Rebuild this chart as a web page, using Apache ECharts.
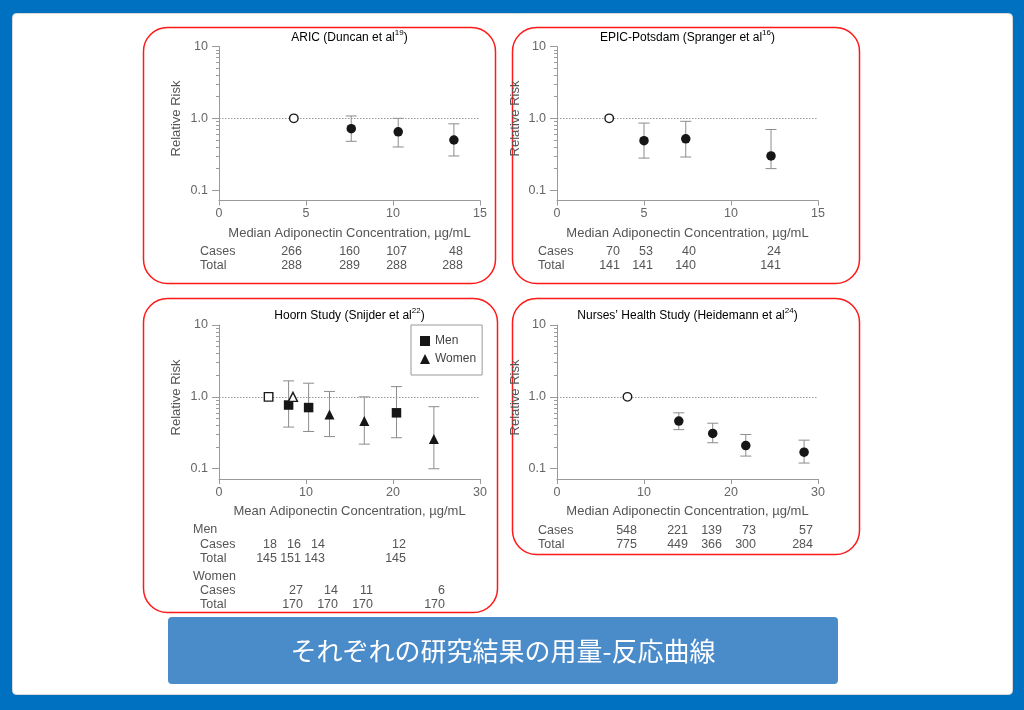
<!DOCTYPE html>
<html>
<head>
<meta charset="utf-8">
<script src="https://cdn.jsdelivr.net/npm/echarts@6/dist/echarts.min.js"></script>
<style>
html,body{margin:0;padding:0;background:#0070C0;}
#chart{width:1024px;height:710px;}
</style>
</head>
<body>
<div id="chart"></div>
<script>
// ---------- DATA ----------
// ARIC (Duncan et al)
const aricX     = [4.3, 7.6, 10.3, 13.5];
const aricRR    = [1.0, 0.72, 0.65, 0.50];
const aricLo    = [null, 0.48, 0.40, 0.30];
const aricHi    = [null, 1.08, 1.00, 0.84];
const aricCases = [266, 160, 107, 48];
const aricTotal = [288, 289, 288, 288];

// EPIC-Potsdam (Spranger et al)
const epicX     = [3.0, 5.0, 7.4, 12.3];
const epicRR    = [1.0, 0.49, 0.52, 0.30];
const epicLo    = [null, 0.28, 0.29, 0.20];
const epicHi    = [null, 0.86, 0.91, 0.70];
const epicCases = [70, 53, 40, 24];
const epicTotal = [141, 141, 140, 141];

// Hoorn Study (Snijder et al)
const menX       = [5.7, 8.0, 10.3, 20.4];
const menRR      = [1.0, 0.77, 0.71, 0.60];
const menLo      = [null, 0.38, 0.33, 0.27];
const menHi      = [null, 1.67, 1.55, 1.39];
const menCases   = [18, 16, 14, 12];
const menTotal   = [145, 151, 143, 145];
const womenX     = [8.5, 12.7, 16.7, 24.7];
const womenRR    = [1.0, 0.57, 0.46, 0.26];
const womenLo    = [null, 0.28, 0.22, 0.10];
const womenHi    = [null, 1.19, 1.00, 0.73];
const womenCases = [27, 14, 11, 6];
const womenTotal = [170, 170, 170, 170];

// Nurses' Health Study (Heidemann et al)
const nhsX     = [8.1, 14.0, 17.9, 21.7, 28.4];
const nhsRR    = [1.0, 0.46, 0.31, 0.21, 0.17];
const nhsLo    = [null, 0.35, 0.23, 0.15, 0.12];
const nhsHi    = [null, 0.60, 0.43, 0.30, 0.25];
const nhsCases = [548, 221, 139, 73, 57];
const nhsTotal = [775, 449, 366, 300, 284];

// Axis ticks
const yMajorTicks = [0.1, 1, 10];
const yMinorTicks = [0.2, 0.3, 0.4, 0.5, 0.6, 0.7, 0.8, 0.9, 2, 3, 4, 5, 6, 7, 8, 9];

const titles = [
  ['ARIC (Duncan et al', '19', ')'],
  ['EPIC-Potsdam (Spranger et al', '16', ')'],
  ['Hoorn Study (Snijder et al', '22', ')'],
  ['Nurses\u2019 Health Study (Heidemann et al', '24', ')']
];
const xNames = [
  'Median Adiponectin Concentration, \u00b5g/mL',
  'Median Adiponectin Concentration, \u00b5g/mL',
  'Mean Adiponectin Concentration, \u00b5g/mL',
  'Median Adiponectin Concentration, \u00b5g/mL'
];
const yName = 'Relative Risk';
const bannerText = 'それぞれの研究結果の用量-反応曲線';

// ---------- LAYOUT ----------
const FONT = '"Liberation Sans", Arial, Helvetica, sans-serif';
const grids = [
  {left: 219, top: 46.5, width: 261, height: 154},
  {left: 557, top: 46.5, width: 261, height: 154},
  {left: 219, top: 325,  width: 261, height: 154},
  {left: 557, top: 325,  width: 261, height: 154}
];
const xMax = [15, 15, 30, 30];
const xInt = [5, 5, 10, 10];
const Y_MIN = 0.072, Y_MAX = 10;

const AXIS_COLOR = '#9a9a9a';
const LABEL_COLOR = '#666';
const TEXT_COLOR = '#555';

const chart = echarts.init(document.getElementById('chart'), null, {renderer: 'canvas'});

const xAxes = [], yAxes = [], series = [];
grids.forEach((g, i) => {
  xAxes.push({
    type: 'value', gridIndex: i, min: 0, max: xMax[i], interval: xInt[i],
    name: xNames[i], nameLocation: 'middle', nameGap: 26,
    nameTextStyle: {fontFamily: FONT, fontSize: 13, color: TEXT_COLOR},
    axisLine: {show: true, lineStyle: {color: AXIS_COLOR, width: 1}},
    axisTick: {show: true, inside: false, length: 5, lineStyle: {color: AXIS_COLOR}},
    axisLabel: {fontFamily: FONT, fontSize: 12.5, color: LABEL_COLOR, margin: 7},
    splitLine: {show: false}
  });
  yAxes.push({
    type: 'log', logBase: 10, gridIndex: i, min: Y_MIN, max: Y_MAX,
    axisLine: {show: true, onZero: false, lineStyle: {color: AXIS_COLOR, width: 1}},
    axisTick: {show: true, inside: false, length: 7, customValues: yMajorTicks, lineStyle: {color: AXIS_COLOR}},
    axisLabel: {customValues: yMajorTicks, fontFamily: FONT, fontSize: 12.5, color: LABEL_COLOR, margin: 11,
      formatter: v => (Math.abs(v - 10) < 1e-6 ? '10' : (+v).toFixed(1))},
    splitLine: {show: false}
  });
  // minor ticks axis
  yAxes.push({
    type: 'log', logBase: 10, gridIndex: i, min: Y_MIN, max: Y_MAX, position: 'left', offset: 0,
    axisLine: {show: false},
    axisTick: {show: true, inside: false, length: 3, customValues: yMinorTicks, lineStyle: {color: AXIS_COLOR}},
    axisLabel: {show: false},
    splitLine: {show: false}
  });
});

function errRender(params, api) {
  const x = api.value(0), lo = api.value(1), hi = api.value(2);
  const p1 = api.coord([x, hi]);
  const p2 = api.coord([x, lo]);
  const w = 5.5;
  const st = {stroke: '#8c8c8c', lineWidth: 1};
  return {type: 'group', children: [
    {type: 'line', shape: {x1: p1[0], y1: p1[1], x2: p2[0], y2: p2[1]}, style: st},
    {type: 'line', shape: {x1: p1[0] - w, y1: p1[1], x2: p1[0] + w, y2: p1[1]}, style: st},
    {type: 'line', shape: {x1: p2[0] - w, y1: p2[1], x2: p2[0] + w, y2: p2[1]}, style: st}
  ]};
}

function addGroup(gi, name, xs, rr, lo, hi, symbol, size, withRefLine) {
  const errData = [];
  xs.forEach((x, k) => { if (lo[k] != null) errData.push([x, lo[k], hi[k]]); });
  series.push({
    type: 'custom', name: name + ' CI', xAxisIndex: gi, yAxisIndex: gi * 2,
    renderItem: errRender, data: errData, encode: {x: 0, y: [1, 2]}, z: 3, silent: true
  });
  const pts = xs.map((x, k) => k === 0
    ? {value: [x, rr[k]], symbolSize: size - 1, itemStyle: {color: '#fff', borderColor: '#1a1a1a', borderWidth: 1.4}}
    : {value: [x, rr[k]]});
  const s = {
    type: 'scatter', name: name, xAxisIndex: gi, yAxisIndex: gi * 2,
    symbol: symbol, symbolSize: size, data: pts, z: 5,
    itemStyle: {color: '#161616', opacity: 1}
  };
  if (withRefLine) {
    s.markLine = {silent: true, symbol: 'none', label: {show: false},
      lineStyle: {color: '#999', type: [1.5, 1.5], width: 1},
      data: [{yAxis: 1}], animation: false};
  }
  series.push(s);
}

addGroup(0, 'ARIC', aricX, aricRR, aricLo, aricHi, 'circle', 9.5, true);
addGroup(1, 'EPIC', epicX, epicRR, epicLo, epicHi, 'circle', 9.5, true);
addGroup(2, 'Men', menX, menRR, menLo, menHi, 'rect', 9.5, true);
addGroup(2, 'Women', womenX, womenRR, womenLo, womenHi, 'triangle', 10, false);
addGroup(3, 'NHS', nhsX, nhsRR, nhsLo, nhsHi, 'circle', 9.5, true);

// ---------- GRAPHICS (frame, panels, titles, tables) ----------
const graphics = [];
graphics.push({type: 'rect', z: -30, shape: {x: 0, y: 0, width: 1024, height: 710}, style: {fill: '#0070C0'}, silent: true});
graphics.push({type: 'rect', z: -20, shape: {x: 12.5, y: 13.5, width: 1000, height: 681, r: 4}, style: {fill: '#fff', stroke: '#d8d8d8', lineWidth: 1}, silent: true});
const panels = [
  {x: 143.5, y: 27.5, width: 352, height: 256},
  {x: 512.5, y: 27.5, width: 347, height: 256},
  {x: 143.5, y: 298.5, width: 354, height: 314},
  {x: 512.5, y: 298.5, width: 347, height: 256}
];
panels.forEach(p => graphics.push({type: 'rect', z: -10, shape: Object.assign({r: 24}, p),
  style: {fill: 'none', stroke: '#ff1a1a', lineWidth: 1.5}, silent: true}));

// titles
const titlePos = [[349.5, 36], [687.5, 36], [349.5, 314], [687.5, 314]];
titles.forEach((t, i) => graphics.push({
  type: 'text', x: titlePos[i][0], y: titlePos[i][1], z: 10,
  style: {
    text: '{n|' + t[0] + '}{s|' + t[1] + '}{n|' + t[2] + '}',
    align: 'center', verticalAlign: 'middle',
    rich: {
      n: {fontFamily: FONT, fontSize: 12, color: '#333', lineHeight: 15, verticalAlign: 'bottom'},
      s: {fontFamily: FONT, fontSize: 8, color: '#333', lineHeight: 9, verticalAlign: 'top'}
    }
  }
}));

// y-axis names (centred on the 1.0 reference line, as in the original)
const yNamePos = [[176.5, 118.5], [515, 118.5], [176.5, 397.5], [515, 397.5]];
yNamePos.forEach(p => graphics.push({
  type: 'text', x: p[0], y: p[1], rotation: Math.PI / 2, z: 10,
  style: {text: yName, fontFamily: FONT, fontSize: 13, fill: TEXT_COLOR, align: 'center', verticalAlign: 'middle'}
}));

function txt(x, y, s, align) {
  graphics.push({type: 'text', x: x, y: y, z: 10, style: {
    text: String(s), fontFamily: FONT, fontSize: 12.5, fill: TEXT_COLOR,
    align: align || 'left', verticalAlign: 'middle'}});
}
function tableRow(label, labelX, y, values, rightEdges) {
  txt(labelX, y, label, 'left');
  values.forEach((v, k) => txt(rightEdges[k], y, v, 'right'));
}
// ARIC table
tableRow('Cases', 200, 252, aricCases, [302, 360, 407, 463]);
tableRow('Total', 200, 265.5, aricTotal, [302, 360, 407, 463]);
// EPIC table
tableRow('Cases', 538, 252, epicCases, [620, 653, 696, 781]);
tableRow('Total', 538, 265.5, epicTotal, [620, 653, 696, 781]);
// NHS table
tableRow('Cases', 538, 530.5, nhsCases, [637, 688, 722, 756, 813]);
tableRow('Total', 538, 544.5, nhsTotal, [637, 688, 722, 756, 813]);
// Hoorn table
txt(193, 530, 'Men');
tableRow('Cases', 200, 544.5, menCases, [277, 301, 325, 406]);
tableRow('Total', 200, 558.5, menTotal, [277, 301, 325, 406]);
txt(193, 576.5, 'Women');
tableRow('Cases', 200, 590.5, womenCases, [303, 338, 373, 445]);
tableRow('Total', 200, 604.5, womenTotal, [303, 338, 373, 445]);

// banner
graphics.push({type: 'rect', z: -5, shape: {x: 168, y: 617, width: 670, height: 67, r: 4}, style: {fill: '#4A8BCA'}, silent: true});
graphics.push({type: 'text', x: 503, y: 651, z: 10, style: {
  text: bannerText, fontFamily: '"Noto Sans CJK JP", sans-serif', fontSize: 26, fill: '#fff',
  align: 'center', verticalAlign: 'middle'}});

const option = {
  animation: false,
  backgroundColor: 'transparent',
  grid: grids.map(g => Object.assign({containLabel: false, outerBoundsMode: 'none'}, g)),
  xAxis: xAxes,
  yAxis: yAxes,
  legend: {
    data: ['Men', 'Women'], orient: 'vertical', left: 411, top: 325,
    itemWidth: 10, itemHeight: 10, itemGap: 6,
    padding: [10, 6, 10, 9], borderColor: '#999', borderWidth: 1, borderRadius: 0,
    textStyle: {fontFamily: FONT, fontSize: 12, color: '#444'},
    selectedMode: false
  },
  graphic: {elements: graphics},
  series: series
};
chart.setOption(option);
</script>
</body>
</html>
